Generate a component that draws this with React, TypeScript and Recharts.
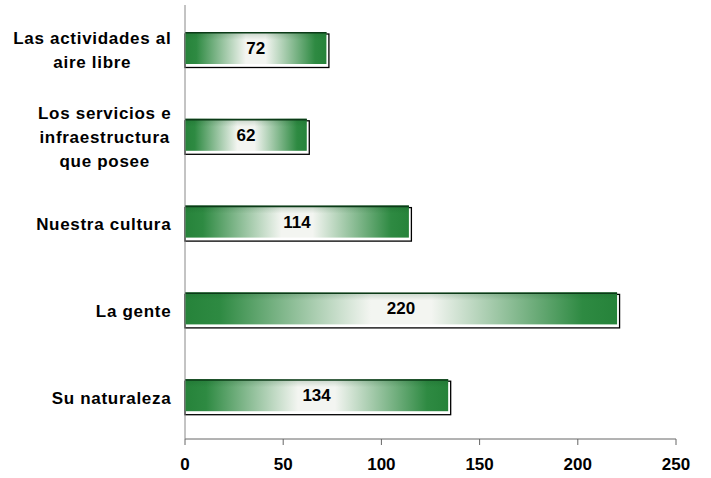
import React from 'react';
import { BarChart, Bar, XAxis, YAxis, LabelList } from 'recharts';

const categories = [
  'Las actividades al\naire libre',
  'Los servicios e\ninfraestructura\nque posee',
  'Nuestra cultura',
  'La gente',
  'Su naturaleza',
];
const values = [72, 62, 114, 220, 134];
const xTicks = [0, 50, 100, 150, 200, 250];

const data = categories.map((name, i) => ({ name, value: values[i] }));

const FONT = '"Liberation Sans", Arial, sans-serif';
const FS = 17;
const LABEL_RIGHT = 171;
const LINE_H = 24;
const SPACING = 0.7;

let ctx: CanvasRenderingContext2D | null = null;
function textWidth(s: string) {
  if (!ctx) ctx = document.createElement('canvas').getContext('2d');
  if (!ctx) return s.length * 9;
  ctx.font = `bold ${FS}px ${FONT}`;
  return ctx.measureText(s).width + SPACING * (s.length - 1);
}

// etiquetas del eje Y: varias líneas centradas, bloque alineado a la derecha
function CategoryTick(props: any) {
  const { y, payload } = props;
  const lines: string[] = String(payload.value).split('\n');
  const maxW = Math.max(...lines.map(textWidth));
  const cx = LABEL_RIGHT - maxW / 2;
  const startY = y + 2 - ((lines.length - 1) * LINE_H) / 2;
  return (
    <text
      x={cx}
      y={startY}
      textAnchor="middle"
      dominantBaseline="central"
      fontFamily={FONT}
      fontSize={FS}
      fontWeight="bold"
      letterSpacing={SPACING}
      fill="#000"
    >
      {lines.map((l, i) => (
        <tspan key={i} x={cx} y={startY + i * LINE_H} dominantBaseline="central">
          {l}
        </tspan>
      ))}
    </text>
  );
}

// barra con sombra desplazada y borde superior oscuro
function ShadowBar(props: any) {
  const { x, y, width, height } = props;
  if (!width || width <= 0) return null;
  return (
    <g>
      <rect x={x} y={y + 2} width={width + 2.5} height={height + 1.5} fill="#fff" stroke="#000" strokeWidth={1.3} />
      <rect x={x} y={y} width={width} height={height} fill="url(#barGrad)" />
      <rect x={x} y={y} width={width} height={height} fill="url(#barShade)" />
      <line x1={x} x2={x + width} y1={y + 0.8} y2={y + 0.8} stroke="#0b3a17" strokeWidth={1.6} />
    </g>
  );
}

export default function App() {
  return (
    <div style={{ position: 'absolute', left: 0, top: 0, background: '#fff' }}>
      <BarChart
        width={711}
        height={478}
        data={data}
        layout="vertical"
        margin={{ top: 5, right: 35, bottom: 9, left: 0 }}
      >
        <defs>
          <linearGradient id="barGrad" x1="0" y1="0" x2="1" y2="0">
            <stop offset="0%" stopColor="#26833a" />
            <stop offset="8%" stopColor="#2e8a42" />
            <stop offset="43%" stopColor="#f3f5f1" />
            <stop offset="57%" stopColor="#f3f5f1" />
            <stop offset="92%" stopColor="#2e8a42" />
            <stop offset="100%" stopColor="#26833a" />
          </linearGradient>
          <linearGradient id="barShade" x1="0" y1="0" x2="0" y2="1">
            <stop offset="0%" stopColor="#0d4a1c" stopOpacity={0.2} />
            <stop offset="25%" stopColor="#0d4a1c" stopOpacity={0} />
            <stop offset="100%" stopColor="#0d4a1c" stopOpacity={0} />
          </linearGradient>
        </defs>
        <XAxis
          type="number"
          domain={[0, 250]}
          ticks={xTicks}
          interval={0}
          height={30}
          stroke="#666"
          tickSize={6}
          tickMargin={13}
          tick={{ fontSize: FS, fontWeight: 'bold', fill: '#000', fontFamily: FONT }}
        />
        <YAxis
          type="category"
          dataKey="name"
          width={185}
          stroke="#888"
          tickLine={false}
          interval={0}
          tick={<CategoryTick />}
        />
        <Bar dataKey="value" barSize={32} shape={<ShadowBar />} isAnimationActive={false}>
          <LabelList
            dataKey="value"
            position="center"
            fill="#000"
            fontSize={FS}
            fontWeight="bold"
            fontFamily={FONT}
          />
        </Bar>
      </BarChart>
    </div>
  );
}
